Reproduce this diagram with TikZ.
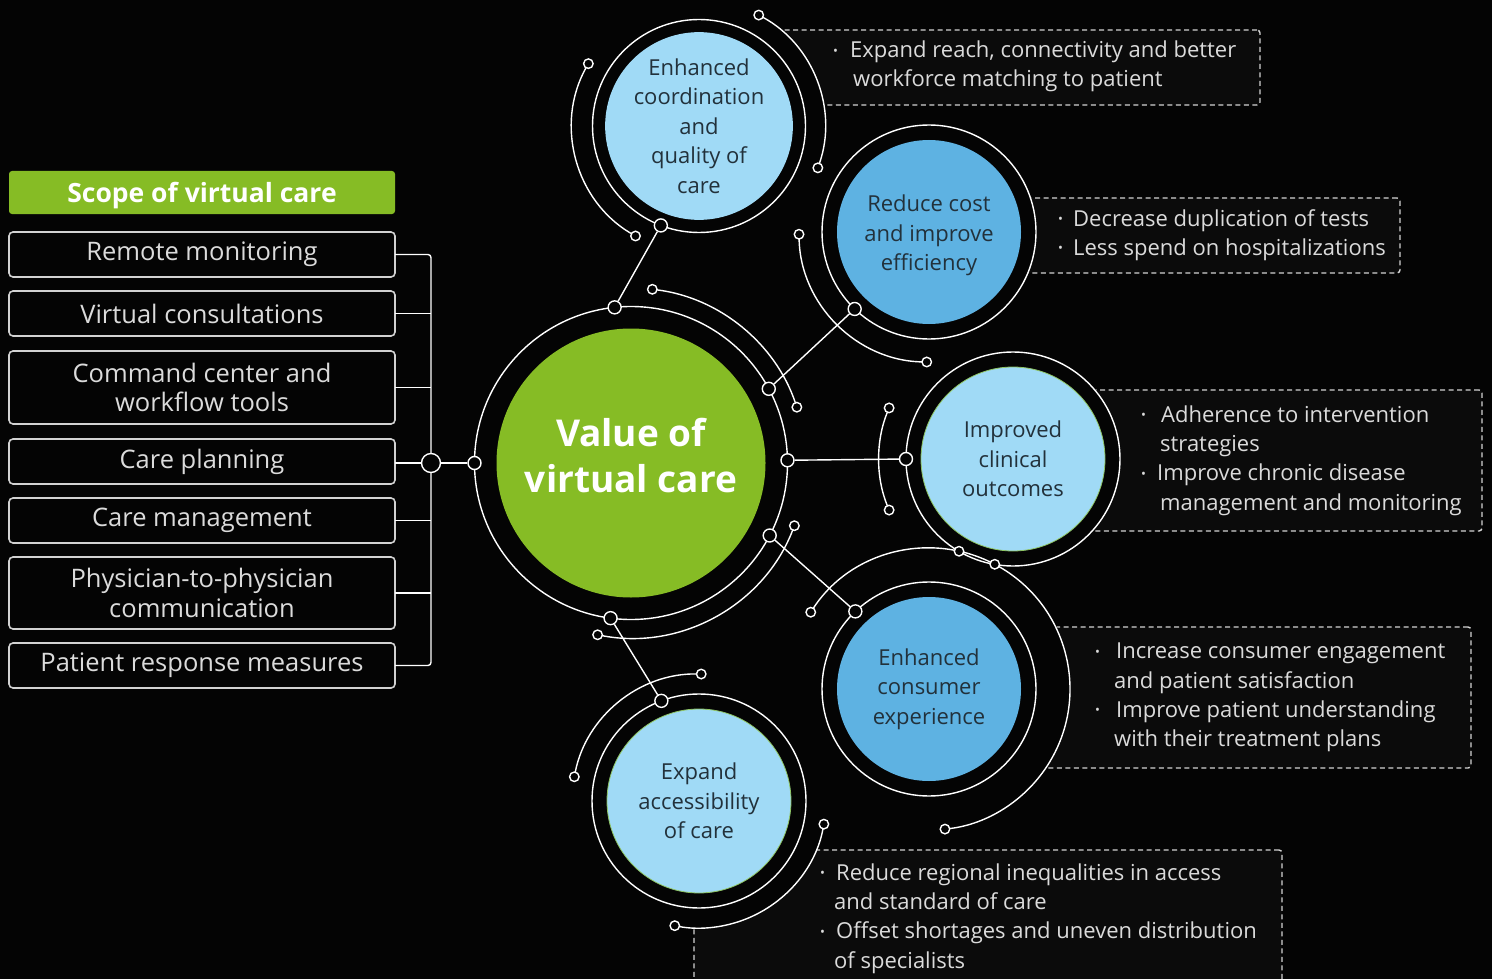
\documentclass[tikz,border=0pt]{standalone}
\usepackage{fontspec}
\setmainfont{Open Sans}
\usetikzlibrary{positioning,fit,calc}

\definecolor{bg}{RGB}{4,4,4}
\definecolor{panel}{RGB}{11,11,11}
\definecolor{vgreen}{HTML}{86BC25}
\definecolor{lblue}{HTML}{A0DAF6}
\definecolor{dblue}{HTML}{5EB2E2}
\definecolor{ink}{HTML}{22313B}
\definecolor{rule}{HTML}{D2D2D2}

% small bullet with a fixed gap after it
\newcommand{\dotitem}[1][17pt]{\makebox[#1][l]{\raisebox{2.5pt}{\fontsize{13}{13}\selectfont\textbullet}}}

\tikzset{
  wire/.style={draw=white, line width=1.4pt},
  trail/.style={wire, shorten <=4.5pt, shorten >=4.5pt},
  halo/.style={circle, fill=bg, inner sep=0pt},
  disc/.style={circle, inner sep=0pt, minimum size=184pt, align=center, text=ink,
    font=\fontsize{22}{29.5}\selectfont},
  pale/.style={disc, fill=lblue},
  pale edge/.style={pale, draw=vgreen!70!lblue, line width=0.8pt},
  deep/.style={disc, fill=dblue},
  tip/.style={circle, draw=white, fill=bg, line width=1.4pt, inner sep=0pt, minimum size=9.5pt},
  joint/.style={tip, minimum size=13pt},
  headbox/.style={fill=vgreen, rounded corners=3pt, minimum width=386pt, minimum height=43pt,
    text=white, font=\fontsize{26.5}{30}\selectfont\bfseries, outer sep=0pt,
    text height=20pt, text depth=0pt},
  itembox/.style={draw=rule, line width=1.6pt, rounded corners=4pt, fill=bg, text=white!86!black,
    minimum width=386pt, minimum height=45pt, align=center, outer sep=0pt,
    font=\fontsize{25.5}{29.5}\selectfont},
  notebox/.style={draw=rule, dash pattern=on 5pt off 3.5pt, line width=1.4pt, fill=panel,
    rounded corners=3pt, inner sep=0pt},
  notetext/.style={align=left, inner sep=0pt, text=white!86!black,
    font=\fontsize{22}{29.3}\selectfont},
}

\begin{document}
\begin{tikzpicture}[x=1pt, y=1pt]
  \fill[bg] (0,0) rectangle (1492,-979);
  \useasboundingbox (0,0) rectangle (1492,-979);

  % dashed panels, their left ends hide behind the halos
  \node[notebox, fit={(700,-30) (1260,-105)}] (pA) {};
  \node[notebox, fit={(1000,-198) (1400,-273)}] (pB) {};
  \node[notebox, fit={(1080,-390) (1482,-531)}] (pC) {};
  \node[notebox, fit={(1000,-627) (1471,-768)}] (pD) {};
  \node[notebox, fit={(694,-850) (1282,-1010)}] (pE) {};

  \node[halo, minimum size=256pt] (hA) at (699,-126) {};
  \node[halo, minimum size=216pt] (hB) at (929,-232) {};
  \node[halo, minimum size=216pt] (hC) at (1013,-459) {};
  \node[halo, minimum size=284pt] (hD) at (929,-689) {};
  \node[halo, minimum size=256pt] (hE) at (699,-801) {};

  % discs
  \node[circle, fill=vgreen, minimum size=269pt, inner sep=0pt] (main) at (631,-463) {};
  \node[text=white, align=center, font=\fontsize{37}{46}\selectfont\bfseries]
    (title) at ([yshift=7pt]main.center) {Value of\\virtual care};
  \node[pale] (coord) at (699,-126) {Enhanced\\coordination\\and\\quality of\\care};
  \node[deep] (cost) at (929,-232) {\rule{0pt}{24pt}Reduce cost\\and improve\\efficiency};
  \node[pale edge] (outc) at (1013,-459) {Improved\\clinical\\outcomes};
  \node[deep] (cons) at (929,-689) {Enhanced\\consumer\\experience};
  \node[pale edge] (access) at (699,-801) {Expand\\accessibility\\of care};

  % rings
  \draw[wire] (main.center) circle[radius=156.5pt];
  \draw[wire] (coord.center) circle[radius=106.5pt];
  \draw[wire] (cost.center) circle[radius=107pt];
  \draw[wire] (outc.center) circle[radius=107pt];
  \draw[wire] (cons.center) circle[radius=107pt];
  \draw[wire] (access.center) circle[radius=107pt];

  % joints on the rings
  \node[joint] (m1) at ($(main.center)+(96:156.5pt)$) {};
  \node[joint] (m2) at ($(main.center)+(28.3:156.5pt)$) {};
  \node[joint] (m3) at ($(main.center)+(1:156.5pt)$) {};
  \node[joint] (m4) at ($(main.center)+(-27.6:156.5pt)$) {};
  \node[joint] (m5) at ($(main.center)+(-97.5:156.5pt)$) {};
  \node[joint] (m6) at ($(main.center)+(180:156.5pt)$) {};
  \node[joint] (jA) at ($(coord.center)+(-111:106.5pt)$) {};
  \node[joint] (jB) at ($(cost.center)+(-134:107pt)$) {};
  \node[joint] (jC) at ($(outc.center)+(180:107pt)$) {};
  \node[joint] (jD) at ($(cons.center)+(133.5:107pt)$) {};
  \node[joint] (jE) at ($(access.center)+(110.6:107pt)$) {};

  % outer trails with open tips
  \node[tip] (mt1) at ($(main.center)+(83:175pt)$) {};
  \node[tip] (mt2) at ($(main.center)+(18.6:175pt)$) {};
  \node[tip] (mt3) at ($(main.center)+(-101:175pt)$) {};
  \node[tip] (mt4) at ($(main.center)+(-21:175pt)$) {};
  \draw[trail] (mt1.center) arc[start angle=83, end angle=18.6, radius=175pt];
  \draw[trail] (mt3.center) arc[start angle=-101, end angle=-21, radius=175pt];

  \node[tip] (ct1) at ($(coord.center)+(150.6:127pt)$) {};
  \node[tip] (ct2) at ($(coord.center)+(240:127pt)$) {};
  \node[tip] (ct3) at ($(coord.center)+(61.7:126pt)$) {};
  \node[tip] (ct4) at ($(coord.center)+(-19.4:126pt)$) {};
  \draw[trail] (ct1.center) arc[start angle=150.6, end angle=240, radius=127pt];
  \draw[trail] (ct3.center) arc[start angle=61.7, end angle=-19.4, radius=126pt];

  \node[tip] (kt1) at ($(cost.center)+(181:130pt)$) {};
  \node[tip] (kt2) at ($(cost.center)+(269:130pt)$) {};
  \draw[trail] (kt1.center) arc[start angle=181, end angle=269, radius=130pt];

  \node[tip] (ot1) at ($(outc.center)+(157.6:134pt)$) {};
  \node[tip] (ot2) at ($(outc.center)+(202.4:134pt)$) {};
  \draw[trail] (ot1.center) arc[start angle=157.6, end angle=202.4, radius=134pt];

  \node[tip] (nt1) at ($(cons.center)+(147:141pt)$) {};
  \node[tip] (nt2) at ($(cons.center)+(-83.5:141pt)$) {};
  \draw[trail] (nt1.center) arc[start angle=147, end angle=-83.5, radius=141pt];
  \node[tip] (cx1) at ($(cons.center)+(77.7:141pt)$) {};
  \node[tip] (cx2) at ($(cons.center)+(62.2:141pt)$) {};

  \node[tip] (at1) at ($(access.center)+(89:127pt)$) {};
  \node[tip] (at2) at ($(access.center)+(169:127pt)$) {};
  \node[tip] (at3) at ($(access.center)+(-10.5:127pt)$) {};
  \node[tip] (at4) at ($(access.center)+(-101:127pt)$) {};
  \draw[trail] (at1.center) arc[start angle=89, end angle=169, radius=127pt];
  \draw[trail] (at3.center) arc[start angle=-10.5, end angle=-101, radius=127pt];

  % spokes
  \draw[wire] (m1) -- (jA);
  \draw[wire] (m2) -- (jB);
  \draw[wire] (m3) -- (jC);
  \draw[wire] (m4) -- (jD);
  \draw[wire] (m5) -- (jE);

  % scope column
  \node[headbox] (head) at (202,-192.5) {Scope of virtual care};
  \node[itembox, below=18pt of head] (remote) {Remote monitoring};
  \node[itembox, below=14pt of remote] (consult) {Virtual consultations};
  \node[itembox, minimum height=73pt, below=15pt of consult] (command) {Command center and\\workflow tools};
  \node[itembox, below=15pt of command] (plan) {Care planning};
  \node[itembox, below=14pt of plan] (manage) {Care management};
  \node[itembox, minimum height=72pt, below=14pt of manage] (p2p) {Physician-to-physician\\communication};
  \node[itembox, below=14pt of p2p] (patient) {Patient response measures};

  \coordinate (bus) at ([xshift=36pt]plan.east |- main);
  \draw[wire, rounded corners=3pt] (remote.east) -| (bus) |- (patient.east);
  \draw[wire] (consult.east) -- (consult.east -| bus);
  \draw[wire] (command.east) -- (command.east -| bus);
  \draw[wire] (plan.east |- bus) -- (bus);
  \draw[wire] (manage.east) -- (manage.east -| bus);
  \draw[wire] (p2p.east) -- (p2p.east -| bus);
  \node[tip, minimum size=19pt] (hub) at (bus) {};
  \draw[wire] (hub) -- (m6);

  % panel texts
  \node[notetext, anchor=west] (tA) at (833,-66.5) {\dotitem Expand reach, connectivity and better\\
    \hspace*{20pt}workforce matching to patient};
  \node[notetext, anchor=west] (tB) at (1058,-235) {\dotitem[15pt]Decrease duplication of tests\\
    \dotitem[15pt]Less spend on hospitalizations};
  \node[notetext, anchor=west] (tC) at (1141,-460.5) {\dotitem[20pt]Adherence to intervention\\
    \hspace*{19pt}strategies\\
    \dotitem[16pt]Improve chronic disease\\
    \hspace*{19pt}management and monitoring};
  \node[notetext, anchor=west] (tD) at (1095,-697.5) {\dotitem[21pt]Increase consumer engagement\\
    \hspace*{19pt}and patient satisfaction\\
    \dotitem[21pt]Improve patient understanding\\
    \hspace*{19pt}with their treatment plans};
  \node[notetext, anchor=west] (tE) at (820,-918.5) {\dotitem[16pt]Reduce regional inequalities in access\\
    \hspace*{14pt}and standard of care\\
    \dotitem[16pt]Offset shortages and uneven distribution\\
    \hspace*{14pt}of specialists};
\end{tikzpicture}
\end{document}
